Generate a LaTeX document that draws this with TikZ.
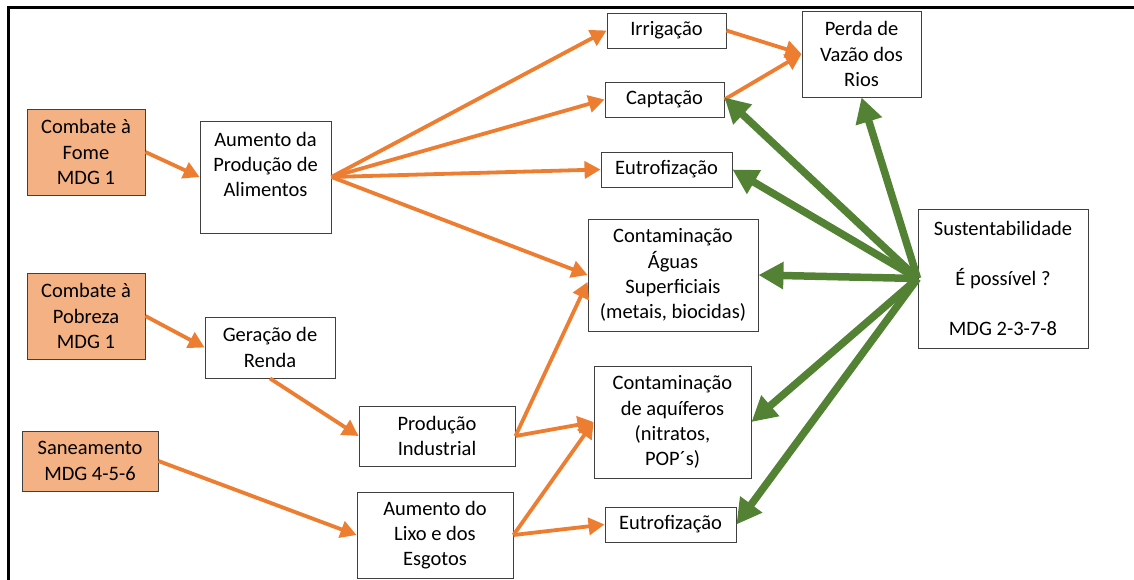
\documentclass[tikz,border=0pt]{standalone}
\usepackage{fontspec}
\setmainfont{Carlito}
\usetikzlibrary{arrows.meta}
\definecolor{laranja}{HTML}{ED7D31}
\definecolor{laranjaclaro}{HTML}{F4B183}
\definecolor{verde}{HTML}{548235}
\definecolor{borda}{HTML}{404040}
\begin{document}
\begin{tikzpicture}[x=1pt,y=-1pt,
    caixa/.style={draw=borda, line width=0.9pt, align=center, inner sep=0pt,
                  font=\fontsize{20.5}{25.2}\selectfont},
    meta/.style={caixa, fill=laranjaclaro},
    seta/.style={laranja, line width=3.8pt, -{Triangle[length=16pt,width=17pt]}},
    setaverde/.style={verde, line width=7.5pt, -{Triangle[length=25pt,width=26pt]}}]
    \useasboundingbox (0,0) rectangle (1134,580);
    \draw[line width=2.5pt] (8.5,580) -- (8.5,7.5) -- (1134,7.5);

% metas
\node[meta, minimum width=118, minimum height=86] (fome) at (86,152) {Combate à\\Fome\\MDG 1};
\node[meta, minimum width=118, minimum height=86] (pobreza) at (86,316) {Combate à\\Pobreza\\MDG 1};
\node[meta, minimum width=136, minimum height=60] (saneam) at (90,461) {Saneamento\\MDG 4-5-6};

% causas
\node[caixa, minimum width=131, minimum height=112] (prodalim) at (265.5,177) {Aumento da\\Produção de\\Alimentos\\ \mbox{}};
\node[caixa, minimum width=130, minimum height=61] (renda) at (270,347.5) {Geração de\\Renda};
\node[caixa, minimum width=156, minimum height=60] (prodind) at (437,436) {Produção\\Industrial};
\node[caixa, minimum width=156, minimum height=86] (lixo) at (435,535) {Aumento do\\Lixo e dos\\Esgotos};

% efeitos
\node[caixa, minimum width=119, minimum height=35] (irrig) at (666.5,30.5) {Irrigação};
\node[caixa, minimum width=119, minimum height=35] (capt) at (664.5,99.5) {Captação};
\node[caixa, minimum width=131, minimum height=35] (eutroA) at (666.5,169.5) {Eutrofização};
\node[caixa, minimum width=170, minimum height=112] (agua) at (673,275) {Contaminação\\Águas\\Superficiais\\(metais, biocidas)};
\node[caixa, minimum width=157, minimum height=112] (aquif) at (672.5,422) {Contaminação\\de aquíferos\\(nitratos,\\POP´s)};
\node[caixa, minimum width=131, minimum height=35] (eutroB) at (670.5,524.5) {Eutrofização};
\node[caixa, minimum width=119, minimum height=86] (perda) at (861.5,54) {Perda de\\Vazão dos\\Rios};
\node[caixa, minimum width=170, minimum height=139] (sust) at (1003,278.5) {Sustentabilidade\\[25.2pt]É possível ?\\[25.2pt]MDG 2-3-7-8};

\draw[seta] (fome.east) -- (prodalim.west);
\draw[seta] (pobreza.east) -- (renda.west);
\draw[seta] (renda.south) -- (prodind.west);
\draw[seta] (saneam.east) -- (lixo.west);

\draw[seta] (prodalim.east) -- (irrig.west);
\draw[seta] (prodalim.east) -- (capt.west);
\draw[seta] (prodalim.east) -- (eutroA.west);
\draw[seta] (prodalim.east) -- (agua.west);

\draw[seta] (prodind.east) -- ([yshift=-7pt]agua.west);
\draw[seta] (prodind.east) -- (aquif.west);
\draw[seta] (lixo.east) -- (aquif.west);
\draw[seta] (lixo.east) -- (eutroB.west);

\draw[seta] (irrig.east) -- (perda.west);
\draw[seta] (capt.east) -- (perda.west);

\draw[setaverde] (sust.west) -- (perda.south);
\draw[setaverde] (sust.west) -- ([yshift=2pt]capt.east);
\draw[setaverde] (sust.west) -- (eutroA.east);
\draw[setaverde] (sust.west) -- (agua.east);
\draw[setaverde] (sust.west) -- (aquif.east);
\draw[setaverde] (sust.west) -- (eutroB.east);

\end{tikzpicture}
\end{document}
